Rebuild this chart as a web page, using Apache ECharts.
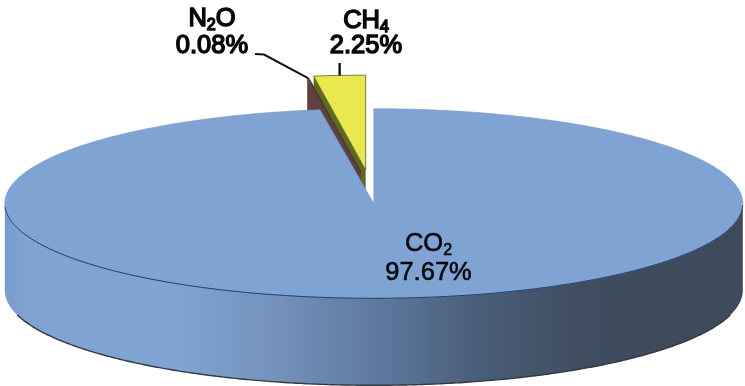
<!DOCTYPE html>
<html>
<head>
<meta charset="utf-8">
<style>html,body{margin:0;padding:0;background:#fff}#chart{width:745px;height:386px}</style>
<script src="https://cdn.jsdelivr.net/npm/echarts@6/dist/echarts.min.js"></script>
</head>
<body>
<div id="chart"></div>
<script>
// Greenhouse gas shares, clockwise from twelve o'clock
const gases = ['CO2', 'N2O', 'CH4'];
const shares = [97.67, 0.08, 2.25];

// Disc geometry
const disc = { cx: 373.8, cy: 203.5, rx: 369, ry: 94.8, depth: 87 };
// Pulled-out offset of each slice, and its colours
const pulled = { CO2: [0, 0], N2O: [-12.8, -31.5], CH4: [-8.1, -33.5] };
const paint = {
  CO2: { top: '#7fa3d2', edge: '#7597c6' },
  N2O: { top: '#4a4a22', wall: '#5f4142', edge: '#4b3334' },
  CH4: { top: '#e9e94f', wall: '#5f6a20', edge: '#5a5a20' }
};
const labelAt = {
  CO2: { x: 428.5, y: 245, y2: 273, weight: 0.6 },
  N2O: { x: 212, y: 20, y2: 46, weight: 1.5 },
  CH4: { x: 366, y: 22, y2: 46, weight: 1.5 }
};
const drawOrder = ['CH4', 'N2O', 'CO2'];

// Point on the disc rim at an angle measured clockwise from the top
function rim(deg, off) {
  const a = deg * Math.PI / 180;
  return [disc.cx + off[0] + disc.rx * Math.sin(a), disc.cy + off[1] - disc.ry * Math.cos(a)];
}
function arc(from, to, off, drop) {
  const pts = [], n = Math.max(2, Math.ceil(Math.abs(to - from) / 0.5));
  for (let i = 0; i <= n; i++) {
    const p = rim(from + (to - from) * i / n, off);
    pts.push([p[0], p[1] + (drop || 0)]);
  }
  return pts;
}
// Start and end angle of a gas from its share of the total
function span(name) {
  const total = shares.reduce((s, v) => s + v, 0);
  let acc = 0;
  for (let i = 0; i < gases.length; i++) {
    const next = acc + shares[i] / total * 360;
    if (gases[i] === name) return [acc, next];
    acc = next;
  }
}
function nameRich(name) {
  return name.replace(/([A-Z]+)(\d)(.*)/, (m, a, d, b) => '{t|' + a + '}{s|' + d + '}' + (b ? '{t|' + b + '}' : ''));
}

function labelItems(name, value) {
  const l = labelAt[name];
  const ink = '#08080c';
  const tok = { fontSize: 25.5, fontFamily: 'Liberation Sans', fill: ink, stroke: ink, lineWidth: l.weight, lineHeight: 28, verticalAlign: 'top' };
  return [
    { type: 'text', z2: 20, style: { x: l.x, y: l.y, align: 'center', verticalAlign: 'middle',
        text: nameRich(name),
        rich: { t: tok, s: Object.assign({}, tok, { fontSize: 16, verticalAlign: 'bottom', lineHeight: 19, padding: [12, 0, 0, 0] }) } } },
    { type: 'text', z2: 20, style: { x: l.x, y: l.y2, align: 'center', verticalAlign: 'middle',
        text: value.toFixed(2) + '%', fontSize: 25.5, fontFamily: 'Liberation Sans', fill: ink, stroke: ink, lineWidth: l.weight } }
  ];
}

function renderSlice(params, api) {
  const name = drawOrder[params.dataIndex];
  const value = api.value(0);
  const [a0, a1] = span(name);
  const off = pulled[name];
  const c = paint[name];
  const apex = [disc.cx + off[0], disc.cy + off[1]];
  const kids = [];

  if (name === 'CO2') {
    const front = arc(90, 270, off);
    const lower = arc(90, 270, off, disc.depth);
    kids.push({ type: 'polygon', shape: { points: front.concat(lower.slice().reverse()) },
      style: { fill: new echarts.graphic.LinearGradient(0, 0, 1, 0, [
        { offset: 0, color: '#7a9cc9' }, { offset: 0.03, color: '#7fa3d2' }, { offset: 0.24, color: '#7fa3d2' },
        { offset: 0.37, color: '#7391bb' }, { offset: 0.5, color: '#5e7a9f' }, { offset: 0.65, color: '#485c77' },
        { offset: 0.78, color: '#3f4d60' }, { offset: 1, color: '#3d4a5b' }]) } });
    // Only the curved underside carries a dark rule, not the upright ends
    kids.push({ type: 'polyline', shape: { points: arc(105, 255, off, disc.depth) }, style: { fill: 'none', stroke: '#34383f', lineWidth: 1.4 } });
    kids.push({ type: 'polygon', shape: { points: [apex].concat(arc(a0, a1, off)) },
      style: { fill: c.top, stroke: c.edge, lineWidth: 0.6 } });
    kids.push({ type: 'polyline', shape: { points: arc(91, 268, off) }, style: { fill: 'none', stroke: '#1d3a66', lineWidth: 1 } });
  } else {
    const rimA = rim(a0, off);
    kids.push({ type: 'polygon', shape: { points: [apex, rimA, [rimA[0], rimA[1] + disc.depth], [apex[0], apex[1] + disc.depth]] },
      style: { fill: c.wall } });
    kids.push({ type: 'polygon', shape: { points: [apex].concat(arc(a0, a1, off)) },
      style: { fill: c.top, stroke: c.edge, lineWidth: 0.8 } });
  }

  // Leader lines from the pulled-out slices to their labels
  if (name === 'N2O') {
    const tip = rim((a0 + a1) / 2, off);
    kids.push({ type: 'polyline', z2: 15, shape: { points: [[255, 54], [264, 54.5], tip] },
      style: { fill: 'none', stroke: '#111', lineWidth: 2 } });
  }
  if (name === 'CH4') {
    const tip = rim((a0 + a1) / 2, off);
    kids.push({ type: 'line', z2: 15, shape: { x1: tip[0], y1: tip[1], x2: tip[0], y2: 63 },
      style: { stroke: '#111', lineWidth: 2.4 } });
  }
  return { type: 'group', children: kids.concat(labelItems(name, value)) };
}

const chart = echarts.init(document.getElementById('chart'), null, { renderer: 'canvas' });
chart.setOption({
  animation: false,
  backgroundColor: '#ffffff',
  series: [{
    type: 'custom',
    coordinateSystem: 'none',
    renderItem: renderSlice,
    data: drawOrder.map(n => ({ name: n, value: [shares[gases.indexOf(n)]] }))
  }]
});
</script>
</body>
</html>
